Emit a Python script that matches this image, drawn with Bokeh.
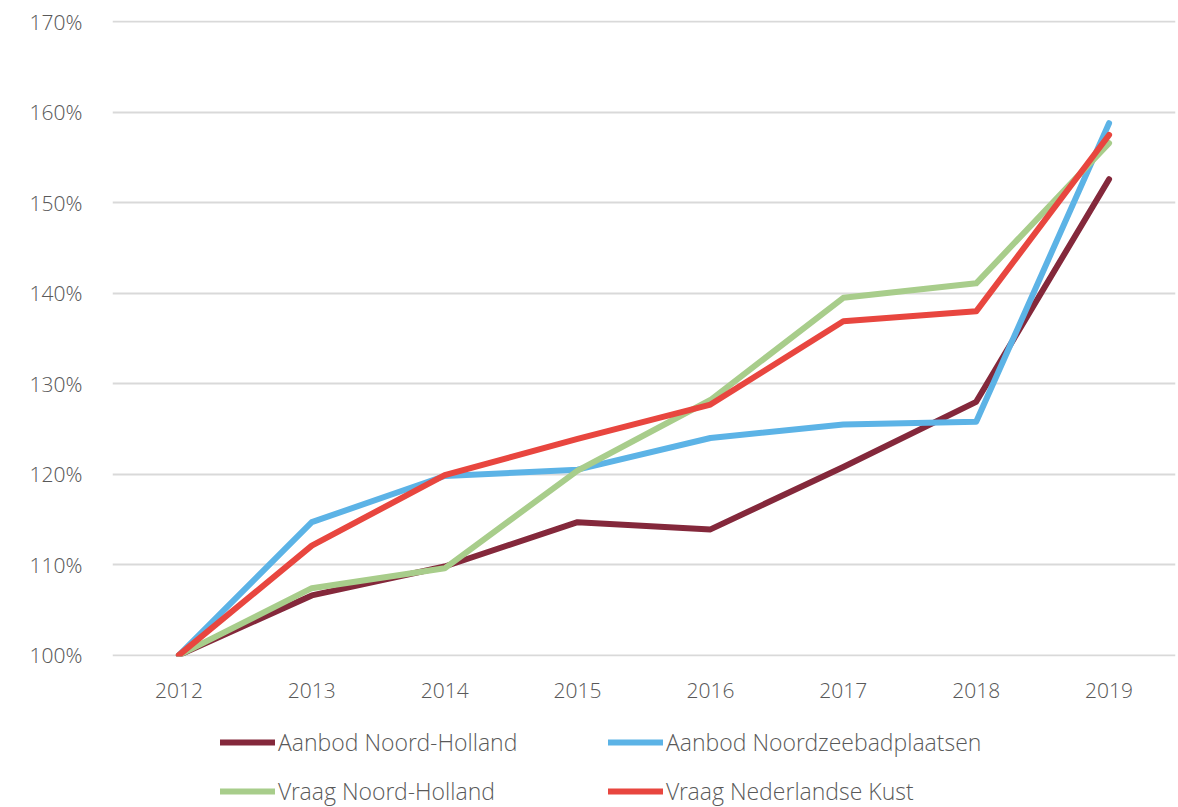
from bokeh.plotting import figure
from bokeh.layouts import column
from bokeh.models import Range1d, FixedTicker, PrintfTickFormatter, Legend, LegendItem
from bokeh.embed import file_html
from bokeh.resources import INLINE

years = ["2012", "2013", "2014", "2015", "2016", "2017", "2018", "2019"]
aanbod_nh = [100.0, 106.6, 109.8, 114.7, 113.9, 120.8, 128.0, 152.6]
aanbod_nzb = [100.0, 114.7, 119.8, 120.5, 124.0, 125.5, 125.8, 158.8]
vraag_nh = [100.0, 107.4, 109.6, 120.4, 128.2, 139.5, 141.1, 156.6]
vraag_kust = [100.0, 112.1, 119.9, 123.9, 127.7, 136.9, 138.0, 157.5]
y_ticks = [100, 110, 120, 130, 140, 150, 160, 170]

series = [
    ("Aanbod Noord-Holland", aanbod_nh, "#84283b"),
    ("Aanbod Noordzeebadplaatsen", aanbod_nzb, "#5cb3e6"),
    ("Vraag Noord-Holland", vraag_nh, "#a8cd8b"),
    ("Vraag Nederlandse Kust", vraag_kust, "#e8463f"),
]

FONT = "'Open Sans Light', 'Open Sans'"
TXT = "#595959"

p = figure(x_range=years, y_range=Range1d(99.85, 170.15),
           width=1178, height=716,
           output_backend="svg", toolbar_location=None,
           min_border_left=112, min_border_right=3, min_border_top=20, min_border_bottom=60)
p.outline_line_color = None
p.background_fill_color = "white"
p.border_fill_color = "white"

p.xgrid.grid_line_color = None
p.ygrid.grid_line_color = "#d9d9d9"
p.ygrid.grid_line_width = 2

p.yaxis.ticker = FixedTicker(ticks=y_ticks)
p.yaxis.formatter = PrintfTickFormatter(format="%d%%")
for ax in (p.xaxis[0], p.yaxis[0]):
    ax.axis_line_color = None
    ax.major_tick_line_color = None
    ax.minor_tick_line_color = None
    ax.major_label_text_font = FONT
    ax.major_label_text_font_size = "21px"
    ax.major_label_text_color = TXT
p.yaxis.major_label_standoff = 24
p.xaxis.major_label_standoff = 20

for name, vals, col in series:
    p.line(years, vals, line_color=col, line_width=6, line_cap="round", line_join="round")

# legend strip below the chart (its frame is aligned with the chart's frame)
lg = figure(width=1178, height=91, x_range=Range1d(0, 1), y_range=Range1d(0, 1),
            output_backend="svg", toolbar_location=None,
            x_axis_type=None, y_axis_type=None,
            min_border_left=112, min_border_right=3, min_border_top=0, min_border_bottom=0)
lg.outline_line_color = None
lg.xgrid.grid_line_color = None
lg.ygrid.grid_line_color = None
items = []
for name, vals, col in series:
    # legend-only proxy renderer, kept outside the visible range
    r = lg.line([5, 6], [5, 6], line_color=col, line_width=6, line_cap="round")
    items.append(LegendItem(label=name, renderers=[r]))

legend = Legend(items=items, orientation="horizontal", ncols=2,
                label_text_font=FONT, label_text_font_size="23px", label_text_color=TXT,
                glyph_width=55, glyph_height=22, label_standoff=3, label_height=22,
                label_width=313, spacing=17, padding=0, margin=0,
                border_line_color=None, background_fill_alpha=0,
                location=(108, 0))
lg.add_layout(legend, "center")

layout = column(p, lg, spacing=0)
open("out.html", "w").write(file_html(layout, INLINE))
